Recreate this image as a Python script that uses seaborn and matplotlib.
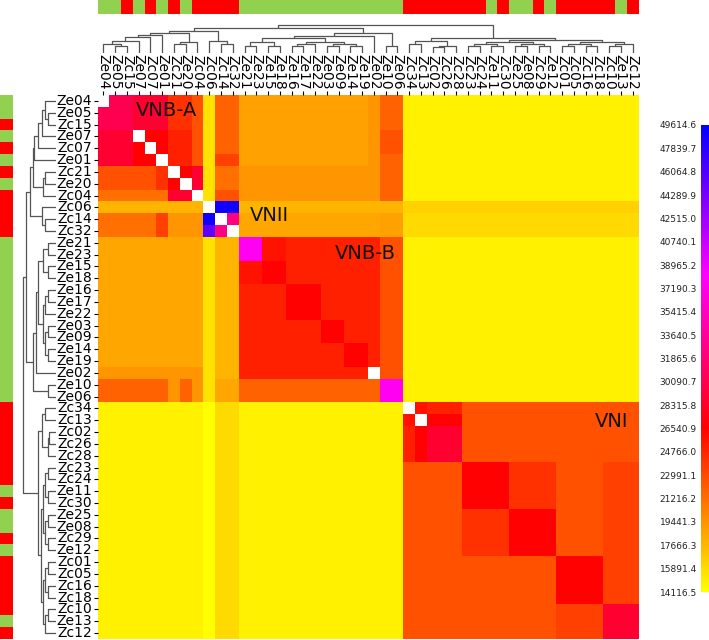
import numpy as np
import pandas as pd
import matplotlib
matplotlib.use("Agg")
import matplotlib.pyplot as plt
import seaborn as sns
from matplotlib.colors import LinearSegmentedColormap, ListedColormap

# ---------------- data ----------------
samples = ["Ze04", "Ze05", "Zc15", "Ze07", "Zc07", "Ze01", "Zc21", "Ze20", "Zc04",
           "Zc06", "Zc14", "Zc32",
           "Ze21", "Ze23", "Ze15", "Ze18", "Ze16", "Ze17", "Ze22", "Ze03", "Ze09",
           "Ze14", "Ze19", "Ze02", "Ze10", "Ze06",
           "Zc34", "Zc13", "Zc02", "Zc26", "Zc28", "Zc23", "Zc24", "Ze11", "Zc30",
           "Ze25", "Ze08", "Zc29", "Ze12", "Zc01", "Zc05", "Zc16", "Zc18", "Zc10",
           "Ze13", "Zc12"]
group_colors = {"Ze": "#92d050", "Zc": "#ff0000"}

# value levels (colour -> value on the colour bar)
level_values = {
    "Y": 14200, "y": 14850, "z": 15625, "d": 16016, "c": 16406, "b": 17772,
    "a": 18500, "A": 18746, "o": 19281, "p": 21075, "q": 21856, "r": 22636,
    "s": 23417, "t": 24197, "u": 24978, "v": 25758, "R": 26541, "k": 28742,
    "m": 30215, "n": 32434, "M": 37567, "P": 45354, "B": 48904,
}
# one string per row, '.' = empty (white) cell
matrix_codes = [
    ".mm kkk tt r z qq AA AA AAA AA AA o qq yy yyy yyyy yyyy yyyy yyy",
    "mmm kkk tt r z qq AA AA AAA AA AA o qq yy yyy yyyy yyyy yyyy yyy",
    "mmm kkk tt r z qq AA AA AAA AA AA o qq yy yyy yyyy yyyy yyyy yyy",
    "kkk .RR uu r z qq AA AA AAA AA AA o rr yy yyy yyyy yyyy yyyy yyy",
    "kkk R.R uu r z qq AA AA AAA AA AA o rr yy yyy yyyy yyyy yyyy yyy",
    "kkk RR. uu r z ss AA AA AAA AA AA o qq yy yyy yyyy yyyy yyyy yyy",
    "rrr rrt .R k z pp oo oo ooo oo oo o qq yy yyy yyyy yyyy yyyy yyy",
    "rrr rrt R. k z pp oo oo ooo oo oo o qq yy yyy yyyy yyyy yyyy yyy",
    "ppp ppp kk . z rr oo oo ooo oo oo o qq yy yyy yyyy yyyy yyyy yyy",
    "bbb bbb bb b . BB bb bb bbb bb bb b bb cc ccc cccc cccc cccc ccc",
    "ppp pps oo o B .n aa aa aaa aa aa a AA dd ddd dddd dddd dddd ddd",
    "ppp pps oo o P n. aa aa aaa aa aa a AA dd ddd dddd dddd dddd ddd",
    "aaa aaa aa a z bb MM vv uuu uu uu u rr yy yyy yyyy yyyy yyyy yyy",
    "aaa aaa aa a z bb MM vv uuu uu uu u rr yy yyy yyyy yyyy yyyy yyy",
    "aaa aaa aa a z bb vv RR uuu uu uu u rr yy yyy yyyy yyyy yyyy yyy",
    "aaa aaa aa a z bb vv RR uuu uu uu u rr yy yyy yyyy yyyy yyyy yyy",
    "aaa aaa aa a z bb uu uu RRR uu uu u rr yy yyy yyyy yyyy yyyy yyy",
    "aaa aaa aa a z bb uu uu RRR uu uu u rr yy yyy yyyy yyyy yyyy yyy",
    "aaa aaa aa a z bb uu uu RRR uu uu u rr yy yyy yyyy yyyy yyyy yyy",
    "aaa aaa aa a z bb uu uu uuu RR uu u rr yy yyy yyyy yyyy yyyy yyy",
    "aaa aaa aa a z bb uu uu uuu RR uu u rr yy yyy yyyy yyyy yyyy yyy",
    "aaa aaa aa a z bb uu uu uuu uu RR u rr yy yyy yyyy yyyy yyyy yyy",
    "aaa aaa aa a z bb uu uu uuu uu RR u rr yy yyy yyyy yyyy yyyy yyy",
    "ooo ooo oo o z bb uu uu uuu uu uu . rr yy yyy yyyy yyyy yyyy yyy",
    "qqq qqq oq o z aa qq qq qqq qq qq q MM yy yyy yyyy yyyy yyyy yyy",
    "qqq qqq oq o z aa qq qq qqq qq qq q MM yy yyy yyyy yyyy yyyy yyy",
    "yyy yyy yy y Y dd yy yy yyy yy yy y yy .v uuu rrrr rrrr rrrr rrr",
    "yyy yyy yy y Y dd yy yy yyy yy yy y yy v. RRR rrrr rrrr rrrr rrr",
    "yyy yyy yy y Y dd yy yy yyy yy yy y yy uR kkk rrrr rrrr rrrr rrr",
    "yyy yyy yy y Y dd yy yy yyy yy yy y yy uR kkk rrrr rrrr rrrr rrr",
    "yyy yyy yy y Y dd yy yy yyy yy yy y yy uR kkk rrrr rrrr rrrr rrr",
    "yyy yyy yy y Y dd yy yy yyy yy yy y yy rr rrr RRRR tttt rrrr sss",
    "yyy yyy yy y Y dd yy yy yyy yy yy y yy rr rrr RRRR tttt rrrr sss",
    "yyy yyy yy y Y dd yy yy yyy yy yy y yy rr rrr RRRR tttt rrrr sss",
    "yyy yyy yy y Y dd yy yy yyy yy yy y yy rr rrr RRRR tttt rrrr sss",
    "yyy yyy yy y Y dd yy yy yyy yy yy y yy rr rrr tttt RRRR rrrr sss",
    "yyy yyy yy y Y dd yy yy yyy yy yy y yy rr rrr tttt RRRR rrrr sss",
    "yyy yyy yy y Y dd yy yy yyy yy yy y yy rr rrr tttt RRRR rrrr sss",
    "yyy yyy yy y Y dd yy yy yyy yy yy y yy rr rrr tttt RRRR rrrr sss",
    "yyy yyy yy y Y dd yy yy yyy yy yy y yy rr rrr rrrr rrrr RRRR sss",
    "yyy yyy yy y Y dd yy yy yyy yy yy y yy rr rrr rrrr rrrr RRRR sss",
    "yyy yyy yy y Y dd yy yy yyy yy yy y yy rr rrr rrrr rrrr RRRR sss",
    "yyy yyy yy y Y dd yy yy yyy yy yy y yy rr rrr rrrr rrrr RRRR sss",
    "yyy yyy yy y Y dd yy yy yyy yy yy y yy rr rrr rrrr rrrr ssss kkk",
    "yyy yyy yy y Y dd yy yy yyy yy yy y yy rr rrr rrrr rrrr ssss kkk",
    "yyy yyy yy y Y dd yy yy yyy yy yy y yy rr rrr rrrr rrrr ssss kkk",
]

cbar_labels = ["49614.6", "47839.7", "46064.8", "44289.9", "42515.0", "40740.1",
               "38965.2", "37190.3", "35415.4", "33640.5", "31865.6", "30090.7",
               "28315.8", "26540.9", "24766.0", "22991.1", "21216.2", "19441.3",
               "17666.3", "15891.4", "14116.5"]

# dendrogram (leaf index, merge heights in px) - same tree for rows and columns
A05 = ((((0, (1, 2, 7), 9), 3, 12), 4, 15.7), 5, 18.4)
A68 = ((6, 7, 9), 8, 11.5)
GRP_A = (A05, A68, 20)
GRP_N = ((10, 11, 9), 9, 12)
GRP_AN = (GRP_A, GRP_N, 22.5)
B1 = ((12, 13, 7), (14, 15, 7), 11.5)
B2 = (((16, 17, 7), 18, 9), ((19, 20, 7), (21, 22, 7), 9), 11.5)
GRP_B = (((B1, B2, 15), 23, 17.4), (24, 25, 7), 20)
C1 = ((26, 27, 9), ((28, 29, 6), 30, 7), 12)
C2 = (((31, 32, 7), (33, 34, 7), 9), ((35, 36, 7), (37, 38, 7), 9), 11.5)
C3 = (((39, 40, 7), (41, 42, 7), 9), ((43, 44, 7), 45, 9), 11.5)
GRP_C = (C1, (C2, C3, 13), 15)
TREE = ((GRP_AN, GRP_B, 25.4), GRP_C, 28)

labels = [("VNB-A", 5.9, 1.3), ("VNII", 14.6, 10.2), ("VNB-B", 22.8, 13.4),
          ("VNI", 43.7, 27.6)]

# ---------------- build ----------------
vmin, vmax = float(cbar_labels[-1]), float(cbar_labels[0])
values = np.array([[np.nan if ch == "." else level_values[ch]
                    for ch in row.replace(" ", "")] for row in matrix_codes])
df = pd.DataFrame(values, index=samples, columns=samples)
groups = [s[:2] for s in samples]
group_codes = np.array([[0 if g == "Ze" else 1 for g in groups]])

cmap = LinearSegmentedColormap.from_list(
    "ymb", [(0.0, "#ffff00"), (0.35, "#ff0000"), (0.68, "#ff00ff"), (1.0, "#0000ff")])
bar_cmap = ListedColormap([group_colors["Ze"], group_colors["Zc"]])

W, H = 709, 640
fig = plt.figure(figsize=(W / 100, H / 100), dpi=100)


def box(x0, y0, x1, y1):
    return [x0 / W, 1 - y1 / H, (x1 - x0) / W, (y1 - y0) / H]


ax_hm = fig.add_axes(box(97.5, 95, 638.5, 639))
ax_top = fig.add_axes(box(97.5, 0, 638.5, 14))
ax_left = fig.add_axes(box(0, 95, 13, 639))
ax_cd = fig.add_axes(box(97.5, 18, 638.5, 53))
ax_rd = fig.add_axes(box(15, 95, 56, 639))
ax_cb = fig.add_axes(box(701, 125, 709, 592))

sns.heatmap(df, ax=ax_hm, cmap=cmap, vmin=vmin, vmax=vmax, cbar_ax=ax_cb,
            xticklabels=samples, yticklabels=samples,
            cbar_kws={"ticks": [float(t) for t in cbar_labels]})
ax_hm.set_xlabel("")
ax_hm.set_ylabel("")
ax_hm.xaxis.tick_top()
ax_hm.tick_params(axis="x", top=True, bottom=False, labeltop=True, labelbottom=False,
                  length=3, width=0.8, pad=1, labelsize=10)
ax_hm.tick_params(axis="y", left=True, length=3, width=0.8, pad=1, labelsize=10)
for t in ax_hm.get_xticklabels():
    t.set_rotation(-90)
    t.set_ha("center")
    t.set_va("bottom")
for t in ax_hm.get_yticklabels():
    t.set_rotation(0)

for name, x, y in labels:
    ax_hm.text(x, y, name, fontsize=14, ha="center", va="center", color="#111111")

cb = ax_hm.collections[0].colorbar
cb.outline.set_visible(False)
cb.ax.yaxis.set_ticks_position("left")
cb.ax.set_yticklabels(cbar_labels)
cb.ax.tick_params(length=0, pad=3, labelsize=6.5, colors="#222222")

sns.heatmap(group_codes, ax=ax_top, cmap=bar_cmap, vmin=0, vmax=1, cbar=False,
            xticklabels=False, yticklabels=False)
sns.heatmap(group_codes.T, ax=ax_left, cmap=bar_cmap, vmin=0, vmax=1, cbar=False,
            xticklabels=False, yticklabels=False)

LINE = dict(color="#555555", lw=0.9, solid_capstyle="butt")


def draw_tree(ax, node, orient):
    if isinstance(node, int):
        return node + 0.5, 0.0
    left, right, h = node
    pl, hl = draw_tree(ax, left, orient)
    pr, hr = draw_tree(ax, right, orient)
    if orient == "top":
        ax.plot([pl, pl, pr, pr], [hl, h, h, hr], **LINE)
    else:
        ax.plot([hl, h, h, hr], [pl, pl, pr, pr], **LINE)
    return (pl + pr) / 2, h


draw_tree(ax_cd, TREE, "top")
ax_cd.set_xlim(0, len(samples))
ax_cd.set_ylim(0, 35)
ax_cd.axis("off")

draw_tree(ax_rd, TREE, "left")
ax_rd.set_ylim(len(samples), 0)
ax_rd.set_xlim(35, 0)
ax_rd.axis("off")

fig.savefig("out.png", dpi=100)
